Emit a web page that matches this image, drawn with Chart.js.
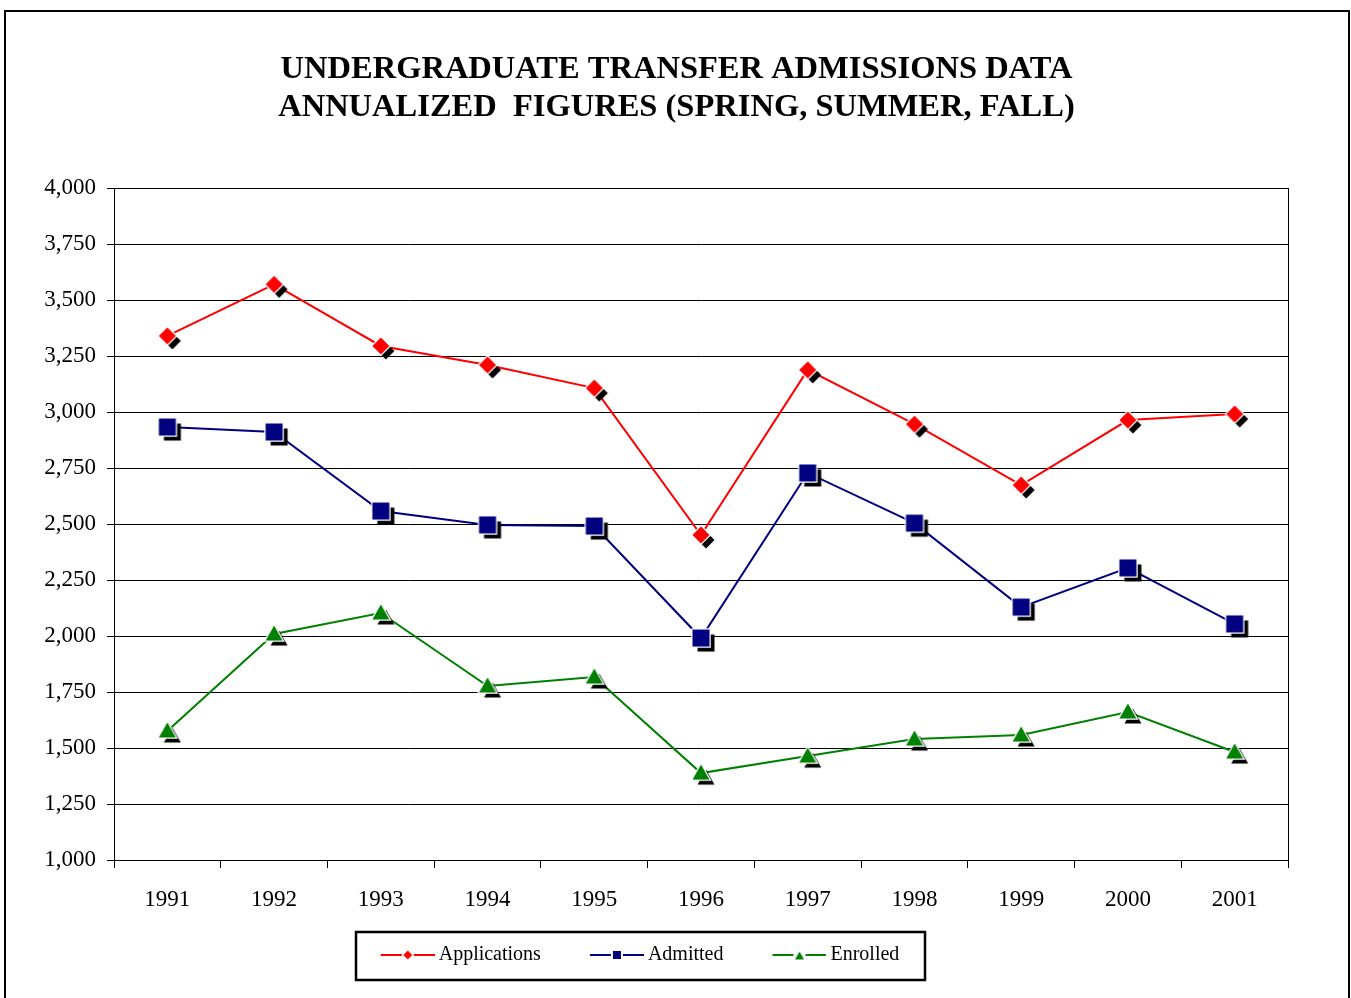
<!DOCTYPE html>
<html>
<head>
<meta charset="utf-8">
<title>Undergraduate Transfer Admissions Data</title>
<script src="https://cdn.jsdelivr.net/npm/chart.js@4.4.1/dist/chart.umd.min.js"></script>
<style>
  html, body { margin: 0; padding: 0; background: #fff; }
  #wrap { width: 1351px; height: 998px; }
</style>
</head>
<body>
<div id="wrap"><canvas id="admissionsChart" width="1351" height="998"></canvas></div>
<script>
// data
const years = ['1991', '1992', '1993', '1994', '1995', '1996', '1997', '1998', '1999', '2000', '2001'];
const applications = [3340, 3570, 3295, 3210, 3107, 2451, 3188, 2946, 2674, 2964, 2991];
const admitted = [2933, 2911, 2558, 2496, 2491, 1991, 2728, 2504, 2129, 2304, 2054];
const enrolled = [1576, 2009, 2103, 1777, 1817, 1388, 1464, 1540, 1558, 1661, 1482];
const titleLines = ['UNDERGRADUATE TRANSFER ADMISSIONS DATA', 'ANNUALIZED  FIGURES (SPRING, SUMMER, FALL)'];

const SERIF = "'Liberation Serif', 'Times New Roman', serif";
// legend sample: box 88 wide, line 54 long starting 40px in
const LEG_BOX = 88;
const LEG_GAP = 40;
const LEG_LINE = 54;

// draws one marker shape as a path
function shapePath(ctx, shape, cx, cy, r) {
  ctx.beginPath();
  if (shape === 'diamond') {
    ctx.moveTo(cx, cy - r);
    ctx.lineTo(cx + r, cy);
    ctx.lineTo(cx, cy + r);
    ctx.lineTo(cx - r, cy);
  } else if (shape === 'square') {
    ctx.rect(cx - r, cy - r, 2 * r, 2 * r);
  } else {
    ctx.moveTo(cx, cy - r);
    ctx.lineTo(cx + r, cy + r * 0.75);
    ctx.lineTo(cx - r, cy + r * 0.75);
  }
  ctx.closePath();
}

// marker with the black drop shadow, as an image for pointStyle
function makeMarker(shape, color) {
  const c = document.createElement('canvas');
  c.width = 34; c.height = 34;
  const ctx = c.getContext('2d');
  const r = 8.5;
  shapePath(ctx, shape, 17 + 5, 17 + 5, r);
  ctx.fillStyle = '#000';
  ctx.fill();
  shapePath(ctx, shape, 17, 17, r);
  ctx.strokeStyle = '#fff';
  ctx.lineWidth = 2.5;
  ctx.stroke();
  ctx.fillStyle = color;
  ctx.fill();
  return c;
}

// small line + marker sample for the legend (image centred on the legend box)
function makeLegendMark(shape, color) {
  const half = LEG_GAP + LEG_LINE - LEG_BOX / 2;
  const c = document.createElement('canvas');
  c.width = half * 2; c.height = 14;
  const ctx = c.getContext('2d');
  const x1 = c.width;
  const x0 = x1 - LEG_LINE;
  ctx.strokeStyle = color;
  ctx.lineWidth = 2;
  ctx.beginPath();
  ctx.moveTo(x0, 7); ctx.lineTo(x1, 7);
  ctx.stroke();
  const mx = (x0 + x1) / 2;
  ctx.fillStyle = '#fff';
  ctx.fillRect(mx - 6, 1, 12, 12);
  shapePath(ctx, shape, mx, shape === 'triangle' ? 8 : 7, shape === 'square' ? 4 : 4.5);
  ctx.fillStyle = color;
  ctx.fill();
  return c;
}

const colors = ['#ff0000', '#000080', '#008000'];
const shapes = ['diamond', 'square', 'triangle'];
const markers = shapes.map((s, i) => makeMarker(s, colors[i]));
const legendMarks = shapes.map((s, i) => makeLegendMark(s, colors[i]));

// white page, plot frame, legend box and outer border
const framePlugin = {
  id: 'frames',
  afterLayout(chart) {
    // title is centred on the whole page, the legend a bit left of the plot centre
    chart.titleBlock.left = 0;
    chart.titleBlock.right = chart.width + 2;
    chart.legend.left -= 24;
    chart.legend.right -= 24;
    chart.legend.top += 1;
    chart.legend.bottom += 1;
  },
  beforeDraw(chart) {
    const ctx = chart.ctx;
    ctx.save();
    ctx.fillStyle = '#fff';
    ctx.fillRect(0, 0, chart.width, chart.height);
    ctx.restore();
  },
  afterDraw(chart) {
    const ctx = chart.ctx;
    const a = chart.chartArea;
    ctx.save();
    ctx.strokeStyle = '#000';
    ctx.lineWidth = 1;
    ctx.strokeRect(Math.round(a.left) + 0.5, Math.round(a.top) + 0.5,
      Math.round(a.right - a.left), Math.round(a.bottom - a.top));

    const boxes = chart.legend.legendHitBoxes;
    if (boxes && boxes.length) {
      const left = Math.min(...boxes.map(b => b.left)) + LEG_GAP;
      const right = Math.max(...boxes.map(b => b.left + b.width));
      const mid = boxes[0].top + boxes[0].height / 2;
      ctx.lineWidth = 2.5;
      ctx.strokeRect(Math.round(left - 25), Math.round(mid - 23), Math.round(right - left + 50), 48);
    }

    ctx.lineWidth = 2;
    ctx.strokeRect(5, 11, 1344, 1000);
    ctx.restore();
  }
};

const config = {
  type: 'line',
  data: {
    labels: years,
    datasets: [
      { label: 'Applications', data: applications },
      { label: 'Admitted', data: admitted },
      { label: 'Enrolled', data: enrolled }
    ].map((d, i) => Object.assign(d, {
      borderColor: colors[i],
      backgroundColor: colors[i],
      borderWidth: 2,
      pointStyle: markers[i],
      pointRadius: 8,
      tension: 0,
      fill: false
    }))
  },
  options: {
    responsive: false,
    animation: false,
    events: [],
    layout: { padding: { left: 0, right: 63, top: 0, bottom: 24 } },
    scales: {
      x: {
        offset: true,
        grid: { offset: true, drawOnChartArea: false, color: '#000', tickLength: 8 },
        border: { color: '#000' },
        ticks: { color: '#000', padding: 18, font: { family: SERIF, size: 23 } },
        afterFit(scale) { scale.height = 75; }
      },
      y: {
        min: 1000,
        max: 4000,
        grid: { color: '#000', lineWidth: 1, tickLength: 7 },
        border: { color: '#000' },
        ticks: {
          stepSize: 250,
          color: '#000',
          padding: 11,
          font: { family: SERIF, size: 23 },
          callback: v => v.toLocaleString('en-US')
        },
        afterFit(scale) { scale.width = 114; }
      }
    },
    plugins: {
      title: {
        display: true,
        text: titleLines,
        color: '#000',
        font: { family: SERIF, size: 32.5, weight: 'bold', lineHeight: 1.17 },
        padding: { top: 51, bottom: 61 }
      },
      legend: {
        position: 'bottom',
        labels: {
          usePointStyle: true,
          pointStyleWidth: LEG_BOX,
          padding: 9,
          color: '#000',
          font: { family: SERIF, size: 20 },
          generateLabels(chart) {
            const items = Chart.defaults.plugins.legend.labels.generateLabels(chart);
            items.forEach((it, i) => { it.pointStyle = legendMarks[i]; });
            return items;
          }
        }
      },
      tooltip: { enabled: false }
    }
  },
  plugins: [framePlugin]
};

new Chart(document.getElementById('admissionsChart'), config);
</script>
</body>
</html>
